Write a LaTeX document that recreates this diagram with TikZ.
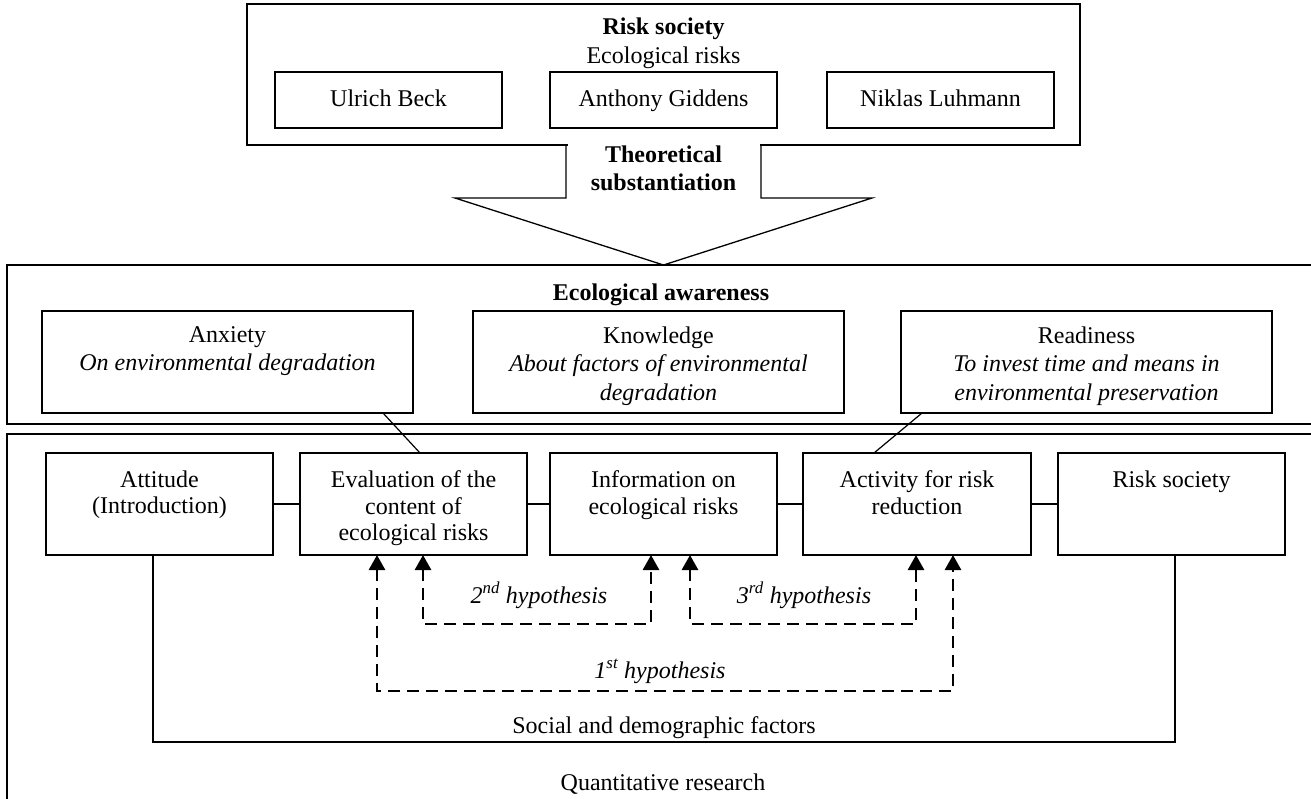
\documentclass[tikz,border=0pt]{standalone}
\usepackage{fontspec}
\setmainfont{Liberation Serif}
\usetikzlibrary{arrows.meta,calc}
\begin{document}
\begin{tikzpicture}[x=1pt,y=-1pt,
  every node/.style={inner sep=0pt,outer sep=0pt},
  frame/.style 2 args={draw,rectangle,line width=1.4pt,minimum width=#1,minimum height=#2},
  namebox/.style={draw,rectangle,line width=1.9pt,minimum width=227pt,minimum height=56pt,
    font=\fontsize{24}{27}\selectfont,text height=16.5pt,text depth=3pt},
  upbox/.style={draw,rectangle,line width=1.2pt,minimum width=371pt,minimum height=102pt},
  lowbox/.style={draw,rectangle,line width=1.2pt,minimum width=#1,minimum height=102pt},
  uptxt/.style={font=\fontsize{24}{28.5}\selectfont,align=center,anchor=north},
  lowtxt/.style={font=\fontsize{24}{26.5}\selectfont,align=center,anchor=north},
  txt/.style={font=\fontsize{24}{27}\selectfont,anchor=base},
  btxt/.style={font=\fontsize{24}{27}\selectfont\bfseries,anchor=base},
  itxt/.style={font=\fontsize{24}{27}\selectfont\itshape,anchor=base},
  conn/.style={line width=1.2pt},
  hyp/.style={line width=2.8pt,dash pattern=on 12pt off 7pt,
    {Triangle[length=15pt,width=16pt]}-{Triangle[length=15pt,width=16pt]}}]
\useasboundingbox (0,0) rectangle (1311,798);
\clip (0,0) rectangle (1311,798);

% ---------- top: risk society ----------
\node[frame={833pt}{141pt}] (top) at (663.5,74.5) {};
\node[btxt] (topT) at (663.5,34) {Risk society};
\node[txt] (topS) at (663.5,63) {Ecological risks};
\node[namebox] (beck) at (388.5,100) {Ulrich Beck};
\node[namebox] (gidd) at (663.5,100) {Anthony Giddens};
\node[namebox] (luhm) at (940.5,100) {Niklas Luhmann};

% ---------- big arrow ----------
\fill[white] (567.5,141) rectangle (759.5,149);
\draw[line width=1.3pt,line join=miter] (566,145) -- (566,198) -- (455,198) -- (663.5,265)
  -- (872,198) -- (761,198) -- (761,145);
\node[btxt] (theo1) at (663.5,162) {Theoretical};
\node[btxt] (theo2) at (663.5,190) {substantiation};

% ---------- ecological awareness ----------
\node[frame={1313pt}{159pt}] (eco) at (663.5,344.5) {};
\node[btxt] (ecoT) at (661,300) {Ecological awareness};
\node[upbox] (anx) at (227.5,362) {};
\node[upbox] (know) at (658.5,362) {};
\node[upbox] (ready) at (1086.5,362) {};
\node[uptxt] (anxT) at (227.5,326.6) {Anxiety\\\textit{On environmental degradation}};
\node[uptxt] (knowT) at (658.5,326.6) {Knowledge\\\textit{About factors of environmental}\\\textit{degradation}};
\node[uptxt] (readyT) at (1086.5,326.6) {Readiness\\\textit{To invest time and means in}\\\textit{environmental preservation}};

% ---------- quantitative research ----------
\node[frame={1313pt}{376pt}] (quant) at (663.5,622) {};
\node[lowbox=227pt] (att) at (159.5,504) {};
\node[lowbox=227pt] (eval) at (413.5,504) {};
\node[lowbox=227pt] (info) at (663.5,504) {};
\node[lowbox=228pt] (act) at (917,504) {};
\node[lowbox=227pt] (risk) at (1171.5,504) {};
\node[lowtxt] (attT) at (159.5,470.6) {Attitude\\(Introduction)};
\node[lowtxt] (evalT) at (413.5,470.6) {Evaluation of the\\content of\\ecological risks};
\node[lowtxt] (infoT) at (663.5,470.6) {Information on\\ecological risks};
\node[lowtxt] (actT) at (917,470.6) {Activity for risk\\reduction};
\node[lowtxt] (riskT) at (1171.5,470.6) {Risk society};

\draw[conn] (att.east) -- (eval.west);
\draw[conn] (eval.east) -- (info.west);
\draw[conn] (info.east) -- (act.west);
\draw[conn] (act.east) -- (risk.west);

% links between the two frames
\draw[conn] ($(anx.south west)+(341,0)$) -- ($(eval.north west)+(120,0)$);
\draw[conn] ($(info.north west)+(122,0)$ |- know.south) -- ($(info.north west)+(122,0)$);
\draw[conn] ($(ready.south west)+(21,0)$) -- ($(act.north west)+(71,0)$);

% social and demographic factors
\coordinate (socL) at (153,742);
\coordinate (socR) at (1175,742);
\draw[line width=1.5pt] (att.south -| socL) -- (socL) -- (socR) -- (risk.south -| socR);
\node[txt] (socT) at (664,733) {Social and demographic factors};
\node[txt] (quantT) at (663,790) {Quantitative research};

% hypotheses
\coordinate (h2L) at (423,624);
\coordinate (h2R) at (651,624);
\coordinate (h3L) at (690,624);
\coordinate (h3R) at (916,624);
\coordinate (h1L) at (377,691);
\coordinate (h1R) at (953,691);
\draw[hyp] (eval.south -| h2L) -- (h2L) -- (h2R) -- (info.south -| h2R);
\draw[hyp] (info.south -| h3L) -- (h3L) -- (h3R) -- (act.south -| h3R);
\draw[hyp] (eval.south -| h1L) -- (h1L) -- (h1R) -- (act.south -| h1R);
\node[itxt] (h2T) at (539,603) {2\textsuperscript{nd} hypothesis};
\node[itxt] (h3T) at (804,603) {3\textsuperscript{rd} hypothesis};
\node[itxt] (h1T) at (660,678) {1\textsuperscript{st} hypothesis};
\end{tikzpicture}
\end{document}
